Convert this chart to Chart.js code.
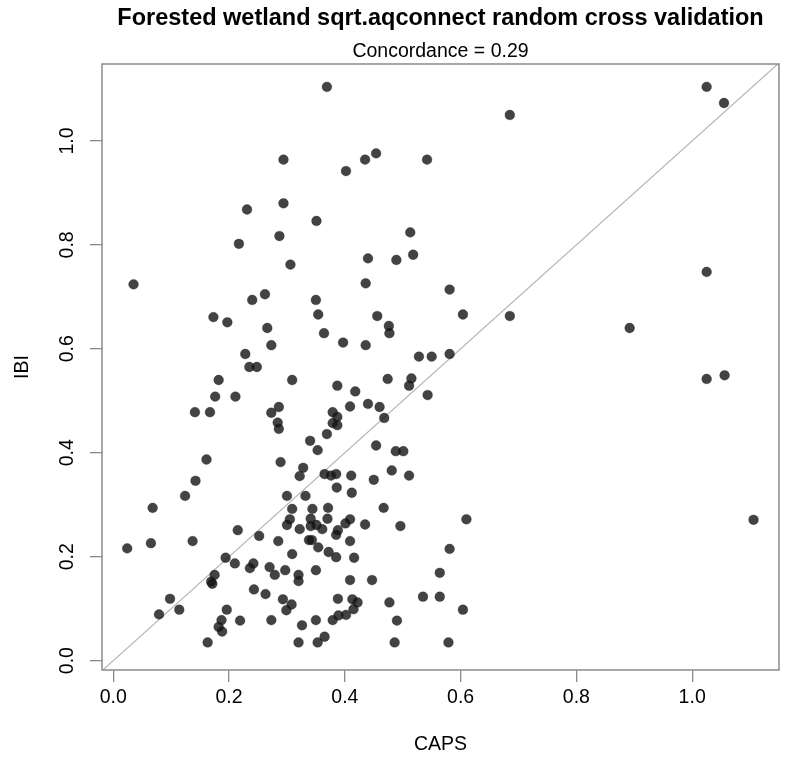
<!DOCTYPE html>
<html>
<head>
<meta charset="utf-8">
<title>Forested wetland sqrt.aqconnect random cross validation</title>
<script src="https://cdn.jsdelivr.net/npm/chart.js@4.4.1/dist/chart.umd.min.js"></script>
<style>
  html, body { margin:0; padding:0; background:#fff; }
  #wrap { width:785px; height:768px; }
</style>
</head>
<body>
<div id="wrap"><canvas id="cv" width="785" height="768"></canvas></div>
<script>
/* ===== Dados ===== */
const capsValues = [
  0.369,0.294,0.294,0.231,0.351,0.287,0.217,0.685,0.454,0.435,
  0.542,0.402,0.513,0.518,0.440,0.489,1.025,1.055,1.025,0.892,
  1.025,1.056,1.106,0.306,0.035,0.262,0.240,0.350,0.354,0.173,
  0.197,0.266,0.364,0.273,0.397,0.228,0.235,0.248,0.182,0.309,
  0.387,0.176,0.211,0.141,0.167,0.273,0.286,0.284,0.286,0.379,
  0.387,0.379,0.387,0.369,0.340,0.353,0.436,0.581,0.456,0.604,
  0.685,0.476,0.477,0.436,0.528,0.550,0.581,0.474,0.515,0.511,
  0.543,0.418,0.409,0.440,0.460,0.468,0.454,0.488,0.501,0.161,
  0.289,0.328,0.322,0.365,0.376,0.385,0.386,0.142,0.124,0.300,
  0.332,0.068,0.309,0.344,0.371,0.305,0.300,0.322,0.341,0.341,
  0.351,0.361,0.370,0.388,0.385,0.252,0.215,0.285,0.338,0.343,
  0.354,0.309,0.372,0.385,0.024,0.065,0.137,0.194,0.210,0.242,
  0.236,0.270,0.279,0.297,0.320,0.320,0.350,0.175,0.169,0.171,
  0.243,0.263,0.293,0.308,0.299,0.388,0.389,0.379,0.350,0.326,
  0.273,0.219,0.196,0.187,0.182,0.188,0.163,0.098,0.114,0.079,
  0.320,0.353,0.365,0.411,0.481,0.450,0.511,0.412,0.467,0.409,
  0.401,0.435,0.496,0.610,0.409,0.416,0.581,0.564,0.409,0.447,
  0.413,0.422,0.415,0.477,0.535,0.564,0.604,0.402,0.490,0.486,
  0.579
];
const ibiValues = [
  1.104,0.964,0.880,0.868,0.846,0.817,0.802,1.050,0.976,0.964,
  0.964,0.942,0.824,0.781,0.774,0.771,1.104,1.073,0.748,0.640,
  0.542,0.549,0.271,0.762,0.724,0.705,0.694,0.694,0.666,0.661,
  0.651,0.640,0.630,0.607,0.612,0.590,0.565,0.565,0.540,0.540,
  0.529,0.508,0.508,0.478,0.478,0.477,0.488,0.458,0.446,0.478,
  0.469,0.457,0.453,0.436,0.423,0.405,0.726,0.714,0.663,0.666,
  0.663,0.644,0.630,0.607,0.585,0.585,0.590,0.542,0.543,0.529,
  0.511,0.518,0.489,0.494,0.488,0.467,0.414,0.403,0.403,0.387,
  0.382,0.371,0.355,0.359,0.356,0.359,0.333,0.346,0.317,0.317,
  0.317,0.294,0.292,0.292,0.294,0.272,0.261,0.253,0.273,0.259,
  0.261,0.253,0.273,0.251,0.242,0.240,0.251,0.230,0.232,0.232,
  0.218,0.205,0.209,0.199,0.216,0.226,0.230,0.198,0.187,0.187,
  0.178,0.180,0.165,0.174,0.165,0.153,0.174,0.165,0.152,0.148,
  0.137,0.128,0.118,0.108,0.097,0.119,0.087,0.078,0.078,0.068,
  0.078,0.077,0.098,0.078,0.065,0.056,0.035,0.119,0.098,0.089,
  0.035,0.035,0.046,0.356,0.366,0.348,0.356,0.323,0.294,0.272,
  0.264,0.262,0.259,0.272,0.230,0.198,0.215,0.169,0.155,0.155,
  0.118,0.112,0.099,0.112,0.123,0.123,0.098,0.088,0.077,0.035,
  0.035
];
const xTicks = [0, 0.2, 0.4, 0.6, 0.8, 1.0];
const yTicks = [0, 0.2, 0.4, 0.6, 0.8, 1.0];
const xRange = [-0.0195, 1.150];
const yRange = [-0.018, 1.148];
const mainTitle = 'Forested wetland sqrt.aqconnect random cross validation';
const subTitle  = 'Concordance = 0.29';
const xLabel = 'CAPS';
const yLabel = 'IBI';

/* ===== Estilo ===== */
const FONT = '"Liberation Sans", Arial, Helvetica, sans-serif';
const AXIS_GRAY = '#8a8a8a';

const points = capsValues.map((x,i)=> ({x, y: ibiValues[i]}));
// reta 1:1 de canto a canto
const lo = Math.min(xRange[0], yRange[0]);
const hi = Math.max(xRange[1], yRange[1]);
const oneToOne = [{x:lo, y:lo}, {x:hi, y:hi}];

/* ===== Moldura e títulos ===== */
const frame = {
  id:'frame',
  afterDraw(chart){
    const {ctx, chartArea:a} = chart;
    const cx = (a.left + a.right)/2;
    ctx.save();
    ctx.strokeStyle = AXIS_GRAY;
    ctx.lineWidth = 1.5;
    ctx.strokeRect(a.left, a.top, a.right - a.left, a.bottom - a.top);
    ctx.fillStyle = '#000';
    ctx.textAlign = 'center';
    ctx.textBaseline = 'middle';
    ctx.font = 'bold 23.5px ' + FONT;
    ctx.fillText(mainTitle, cx, 19);
    ctx.font = '19.5px ' + FONT;
    ctx.fillText(subTitle, cx, 52);
    ctx.restore();
  }
};

new Chart(document.getElementById('cv').getContext('2d'), {
  type:'scatter',
  data:{
    datasets:[
      { type:'line', data:oneToOne, borderColor:'#b5b5b5', borderWidth:1.2,
        pointRadius:0, fill:false, order:2 },
      { data:points, backgroundColor:'rgba(20,20,20,0.80)',
        borderColor:'rgba(20,20,20,0.35)', borderWidth:0.8,
        pointRadius:4.9, pointHoverRadius:4.9, order:1 }
    ]
  },
  options:{
    responsive:false,
    animation:false,
    events:[],
    layout:{ padding:{ top:64, right:6, bottom:0, left:0 } },
    plugins:{ legend:{display:false}, tooltip:{enabled:false} },
    scales:{
      x:{
        type:'linear', min:xRange[0], max:xRange[1],
        afterBuildTicks: s => { s.ticks = xTicks.map(v=>({value:v})); },
        afterFit: s => { s.height = 98; },
        ticks:{ callback: v => Number(v).toFixed(1), autoSkip:false, maxRotation:0,
                color:'#000', padding:4, font:{family:FONT, size:19.5} },
        grid:{ drawOnChartArea:false, drawTicks:true, tickLength:12, color:AXIS_GRAY, lineWidth:1.3 },
        border:{ display:false },
        title:{ display:true, text:xLabel, color:'#000', font:{family:FONT, size:19.5},
                padding:{top:0, bottom:12} }
      },
      y:{
        type:'linear', min:yRange[0], max:yRange[1],
        afterBuildTicks: s => { s.ticks = yTicks.map(v=>({value:v})); },
        afterFit: s => { s.width = 102; },
        ticks:{ callback: v => Number(v).toFixed(1), autoSkip:false,
                minRotation:90, maxRotation:90, crossAlign:'center',
                color:'#000', padding:9, font:{family:FONT, size:19.5} },
        grid:{ drawOnChartArea:false, drawTicks:true, tickLength:12, color:AXIS_GRAY, lineWidth:1.3 },
        border:{ display:false },
        title:{ display:true, text:yLabel, color:'#000', font:{family:FONT, size:19.5},
                padding:{top:11, bottom:0} }
      }
    }
  },
  plugins:[frame]
});
</script>
</body>
</html>
